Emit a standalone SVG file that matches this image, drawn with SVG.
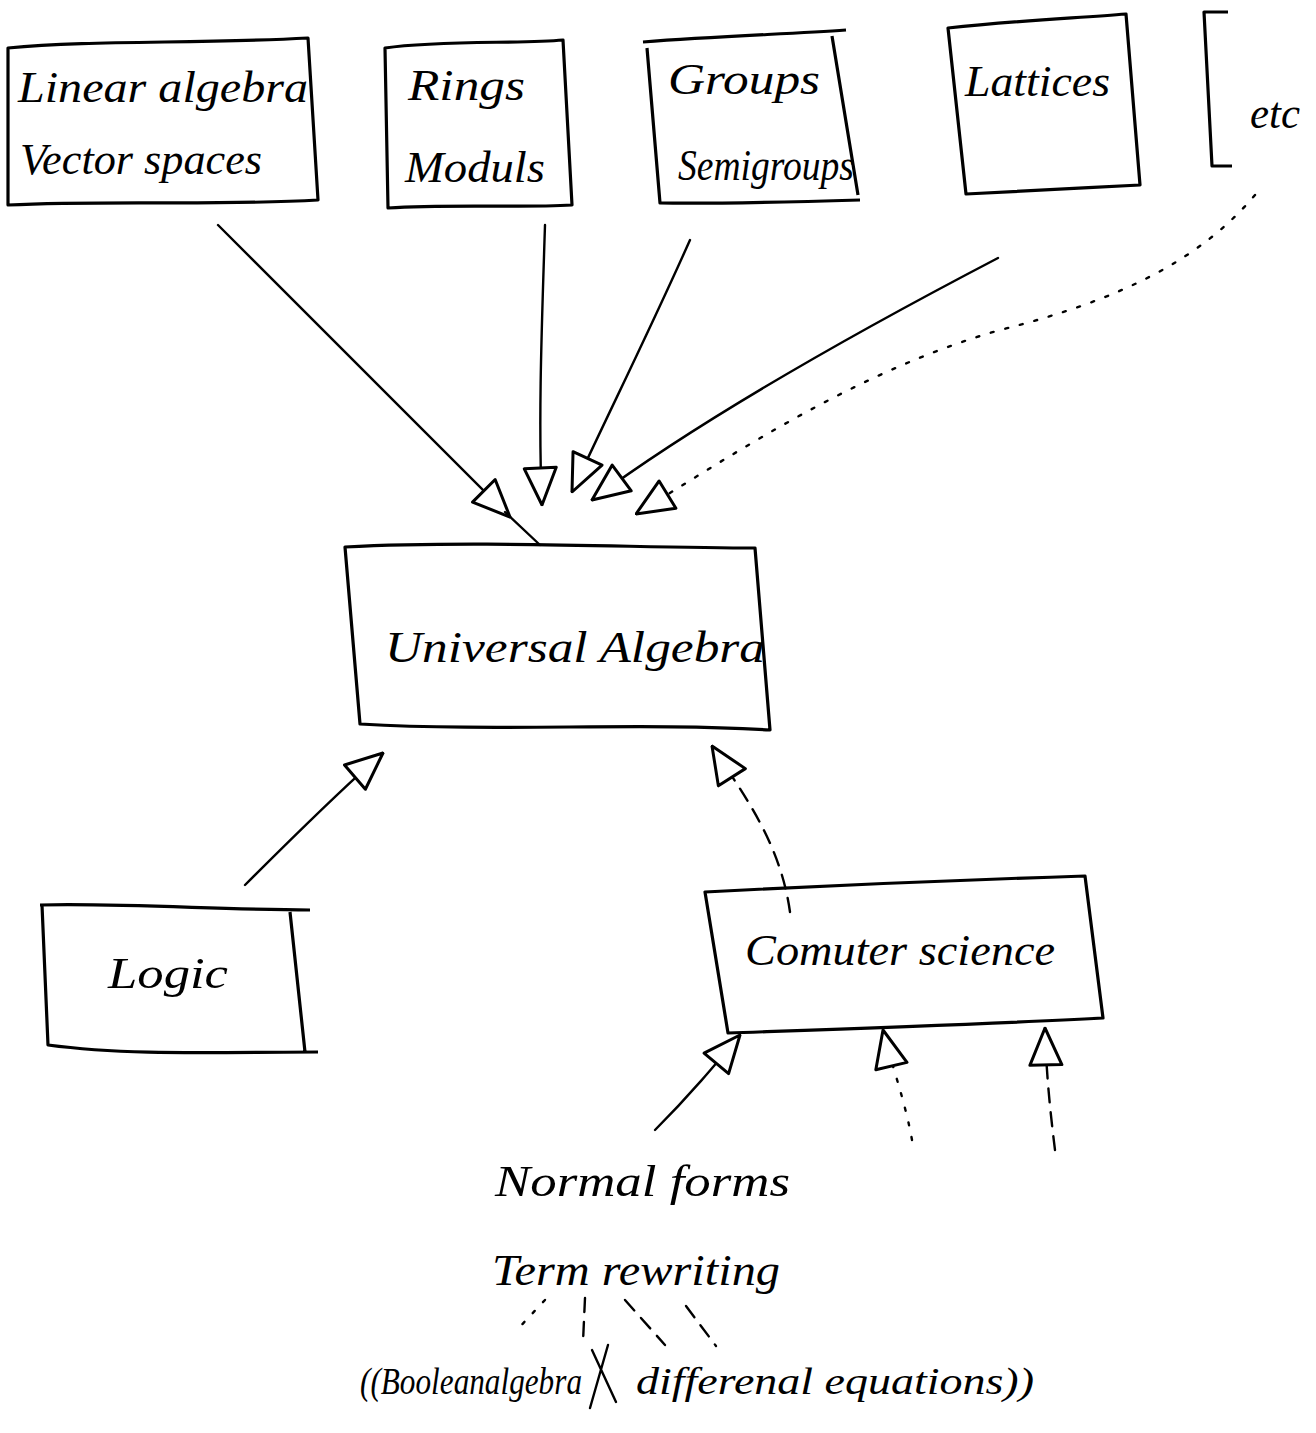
<svg xmlns="http://www.w3.org/2000/svg" width="1316" height="1433" viewBox="0 0 1316 1433">
<style>
.box{fill:none;stroke:#000;stroke-width:3.2;stroke-linejoin:round}
.t{font-family:"Liberation Serif",serif;font-style:italic;font-size:44px;fill:#000}
.s{font-size:38px}
.c{fill:none;stroke:#000;stroke-width:2.4;stroke-linecap:round}
.dot{stroke-dasharray:3 12}
.dash{stroke-dasharray:14 10}
</style>
<defs>
<marker id="tri" viewBox="0 0 40 36" refX="39" refY="18" markerWidth="40" markerHeight="36" markerUnits="userSpaceOnUse" orient="auto">
<path d="M2,2 L39,18 L2,34 Z" fill="#fff" stroke="#000" stroke-width="3" stroke-linejoin="round"/>
</marker>
</defs>
<rect width="1316" height="1433" fill="#fff"/>

<g id="n-linear">
<path class="box" d="M8,48 C90,40 200,44 308,38 L318,200 C220,206 110,200 8,205 Z"/>
<text class="t" x="18" y="102" textLength="290" lengthAdjust="spacingAndGlyphs">Linear algebra</text>
<text class="t" x="20" y="174" textLength="242" lengthAdjust="spacingAndGlyphs">Vector spaces</text>
</g>
<g id="n-rings">
<path class="box" d="M385,48 C440,40 520,44 563,40 L572,205 C520,208 450,204 388,208 Z"/>
<text class="t" x="408" y="100" textLength="117" lengthAdjust="spacingAndGlyphs">Rings</text>
<text class="t" x="405" y="182" textLength="140" lengthAdjust="spacingAndGlyphs">Moduls</text>
</g>
<g id="n-groups">
<path class="box" d="M643,42 C720,36 790,34 846,30 M832,36 L858,195 M860,200 C790,202 720,204 660,203 L647,48"/>
<text class="t" x="668" y="94" textLength="152" lengthAdjust="spacingAndGlyphs">Groups</text>
<text class="t" x="678" y="180" textLength="176" lengthAdjust="spacingAndGlyphs">Semigroups</text>
</g>
<g id="n-lattices">
<path class="box" d="M948,28 C1020,20 1080,18 1126,14 L1140,185 C1080,188 1010,192 966,194 Z"/>
<text class="t" x="965" y="96" textLength="145" lengthAdjust="spacingAndGlyphs">Lattices</text>
</g>
<g id="n-etc">
<path class="box" d="M1228,12 L1204,12 L1212,166 L1232,166"/>
<text class="t" x="1250" y="128" textLength="50" lengthAdjust="spacingAndGlyphs">etc</text>
</g>
<g id="n-universal">
<path class="box" d="M345,547 C480,540 640,548 755,548 L770,730 C640,722 500,732 360,724 Z"/>
<text class="t" x="385" y="662" textLength="380" lengthAdjust="spacingAndGlyphs">Universal Algebra</text>
</g>
<g id="n-logic">
<path class="box" d="M40,905 C130,903 220,910 310,910 M290,912 L305,1052 M318,1052 C220,1052 130,1056 48,1045 L42,905"/>
<text class="t" x="108" y="988" textLength="120" lengthAdjust="spacingAndGlyphs">Logic</text>
</g>
<g id="n-cs">
<path class="box" d="M705,892 C820,886 960,880 1085,876 L1103,1018 C990,1024 870,1028 728,1033 Z"/>
<text class="t" x="745" y="965" textLength="310" lengthAdjust="spacingAndGlyphs">Comuter science</text>
</g>
<g id="n-normal">
<text class="t" x="495" y="1196" textLength="295" lengthAdjust="spacingAndGlyphs">Normal forms</text>
</g>
<g id="n-term">
<text class="t" x="492" y="1285" textLength="288" lengthAdjust="spacingAndGlyphs">Term rewriting</text>
</g>
<g id="n-bottom">
<text class="t s" x="360" y="1394" textLength="222" lengthAdjust="spacingAndGlyphs">((Booleanalgebra</text>
<path class="c" d="M608,1345 L590,1408 M592,1350 L616,1402" stroke-width="3"/>
<text class="t s" x="636" y="1394" textLength="398" lengthAdjust="spacingAndGlyphs">differenal equations))</text>
</g>

<g id="connectors">
<path class="c" d="M218,225 L510,517" marker-end="url(#tri)"/>
<path class="c" d="M505,512 L540,545"/>
<path class="c" d="M545,225 C542,320 538,420 542,505" marker-end="url(#tri)"/>
<path class="c" d="M690,240 C650,330 610,410 572,492" marker-end="url(#tri)"/>
<path class="c" d="M998,258 C860,330 700,420 592,500" marker-end="url(#tri)"/>
<path class="c dot" d="M1255,195 C1200,260 1120,300 1000,330 C860,370 740,450 636,514" marker-end="url(#tri)"/>
<path class="c" d="M245,885 C290,840 340,790 383,753" marker-end="url(#tri)" stroke-width="3"/>
<path class="c dash" d="M790,912 C780,840 740,790 712,746" marker-end="url(#tri)"/>
<path class="c" d="M655,1130 C690,1095 715,1065 740,1035" marker-end="url(#tri)" stroke-width="3"/>
<path class="c dot" d="M912,1140 C905,1100 890,1060 883,1030" marker-end="url(#tri)"/>
<path class="c dash" d="M1055,1150 C1050,1110 1046,1070 1045,1028" marker-end="url(#tri)"/>
<path class="c dot" d="M545,1300 L515,1332"/>
<path class="c dash" d="M585,1298 L583,1342"/>
<path class="c dash" d="M625,1300 L665,1345"/>
<path class="c dash" d="M686,1306 L716,1346"/>
</g>
</svg>
